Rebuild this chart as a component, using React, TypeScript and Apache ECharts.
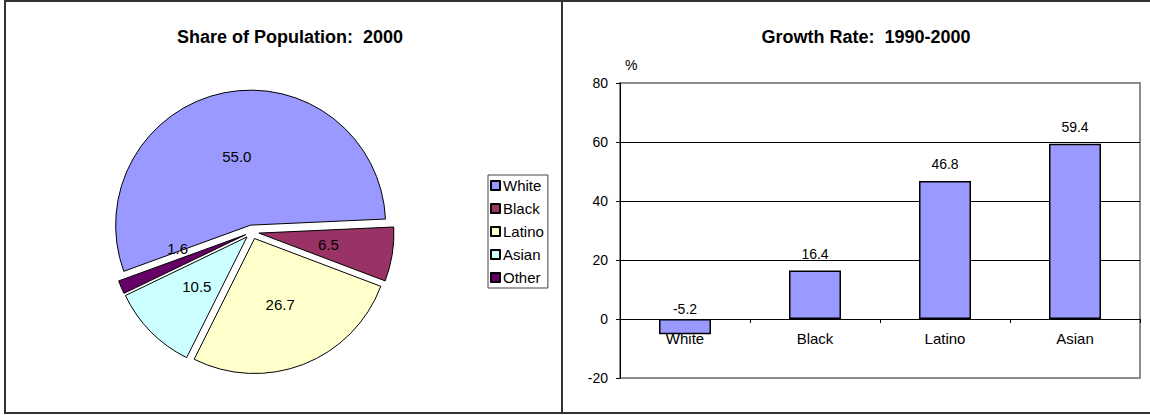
import React, { useEffect, useRef } from 'react';
import * as echarts from 'echarts';

const FONT = '"Liberation Sans", Arial, sans-serif';

const popCategories = ['White', 'Black', 'Latino', 'Asian', 'Other'];
const popShare = [55.0, 6.5, 26.7, 10.5, 1.6];
const popColors = ['#9999FF', '#993366', '#FFFFCC', '#CCFFFF', '#660066'];

const growthCategories = ['White', 'Black', 'Latino', 'Asian'];
const growthRate = [-5.2, 16.4, 46.8, 59.4];

const yMin = -20;
const yMax = 80;
const yInterval = 20;

export default function App() {
  const ref = useRef<HTMLDivElement>(null);

  useEffect(() => {
    const chart = echarts.init(ref.current!, null, { renderer: 'svg' });
    chart.setOption({
      animation: false,
      backgroundColor: '#ffffff',
      textStyle: { fontFamily: FONT },
      title: [
        {
          text: 'Share of Population:  2000',
          left: 285,
          top: 23,
          textAlign: 'center',
          textStyle: { fontFamily: FONT, fontSize: 18, fontWeight: 'bold', color: '#000' },
        },
        {
          text: 'Growth Rate:  1990-2000',
          left: 861,
          top: 23,
          textAlign: 'center',
          textStyle: { fontFamily: FONT, fontSize: 18, fontWeight: 'bold', color: '#000' },
        },
      ],
      legend: {
        data: popCategories,
        orient: 'vertical',
        left: 488,
        top: 175,
        itemWidth: 9,
        itemHeight: 9,
        itemGap: 8,
        padding: [3, 4, 3, 2],
        borderColor: '#444',
        borderWidth: 1,
        icon: 'rect',
        selectedMode: false,
        textStyle: { fontFamily: FONT, fontSize: 15, color: '#000', padding: [0, 0, 0, -2] },
      },
      grid: {
        left: 620,
        right: 10,
        top: 83,
        bottom: 37,
        show: true,
        borderColor: '#8c8c8c',
        borderWidth: 2,
        backgroundColor: 'transparent',
      },
      xAxis: {
        type: 'category',
        data: growthCategories,
        offset: -59,
        axisLine: { onZero: false, lineStyle: { color: '#000', width: 1 } },
        axisTick: { show: true, length: 4, lineStyle: { color: '#000' } },
        axisLabel: { fontFamily: FONT, fontSize: 15, color: '#000', margin: 12 },
        splitLine: { show: false },
      },
      yAxis: {
        type: 'value',
        min: yMin,
        max: yMax,
        interval: yInterval,
        name: '%',
        nameLocation: 'end',
        nameGap: 11,
        nameTextStyle: { fontFamily: FONT, fontSize: 14, color: '#000', align: 'left', padding: [0, 0, 0, 5] },
        axisLine: { show: true, lineStyle: { color: '#000', width: 1 } },
        axisTick: { show: true, length: 4, lineStyle: { color: '#000' } },
        axisLabel: { fontFamily: FONT, fontSize: 14, color: '#000', margin: 12 },
        splitLine: {
          show: true,
          lineStyle: { color: ['#8c8c8c', '#000', '#000', '#000', '#000', '#8c8c8c'], width: 1 },
        },
      },
      series: [
        {
          type: 'pie',
          center: [252, 232],
          radius: 135,
          startAngle: 200,
          clockwise: true,
          selectedMode: 'multiple',
          selectedOffset: 7,
          avoidLabelOverlap: false,
          itemStyle: { borderColor: '#000', borderWidth: 1 },
          label: {
            show: true,
            position: 'inner',
            fontFamily: FONT,
            fontSize: 15,
            color: '#000',
            formatter: (p: any) => Number(p.value).toFixed(1),
          },
          labelLine: { show: false },
          labelLayout: (params: any) => (params.dataIndex === 4 ? { dx: -3, dy: -14 } : {}),
          emphasis: { disabled: true },
          data: popCategories.map((name, i) => ({
            name,
            value: popShare[i],
            selected: true,
            itemStyle: { color: popColors[i] },
          })),
        },
        {
          type: 'bar',
          name: 'Growth',
          barWidth: '40%',
          itemStyle: { color: '#9999FF', borderColor: '#000', borderWidth: 1.5 },
          label: {
            show: true,
            position: 'top',
            distance: 10,
            fontFamily: FONT,
            fontSize: 14,
            color: '#000',
            formatter: (p: any) => Number(p.value).toFixed(1),
          },
          emphasis: { disabled: true },
          data: growthRate.map((v) => (v < 0 ? { value: v, label: { distance: 3 } } : { value: v })),
        },
      ],
      graphic: [
        { type: 'line', shape: { x1: 5, y1: 1, x2: 1150, y2: 1 }, style: { stroke: '#333', lineWidth: 2 } },
        { type: 'line', shape: { x1: 5, y1: 413, x2: 1150, y2: 413 }, style: { stroke: '#333', lineWidth: 2 } },
        { type: 'line', shape: { x1: 5, y1: 0, x2: 5, y2: 414 }, style: { stroke: '#333', lineWidth: 2 } },
        { type: 'line', shape: { x1: 562, y1: 0, x2: 562, y2: 414 }, style: { stroke: '#333', lineWidth: 2 } },
      ],
    });
    return () => chart.dispose();
  }, []);

  return (
    <div
      ref={ref}
      style={{ position: 'absolute', left: 0, top: 0, width: 1150, height: 415, background: '#fff' }}
    />
  );
}
